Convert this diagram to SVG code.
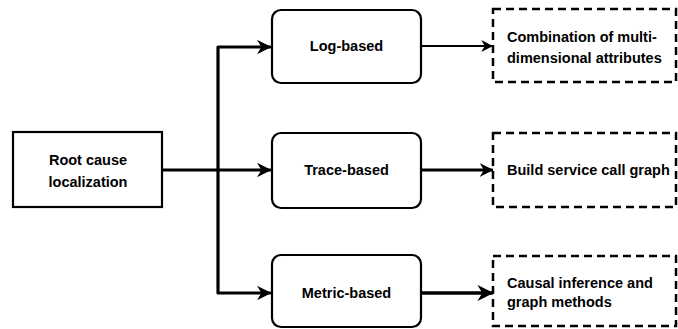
<svg xmlns="http://www.w3.org/2000/svg" width="678" height="329" viewBox="0 0 678 329">
<defs>
<style>
.box{fill:#fff;stroke:#000;stroke-width:2.2}
.dash{fill:#fff;stroke:#000;stroke-width:2.5;stroke-dasharray:8 5}
.t{font-family:"Liberation Sans",Arial,Helvetica,sans-serif;font-weight:bold;font-size:14.5px;fill:#000}
.c{text-anchor:middle}
.edge{fill:none;stroke:#000;stroke-linecap:round;stroke-linejoin:round}
</style>
<marker id="ah" viewBox="0 0 10 10" refX="9" refY="5" markerWidth="4.5" markerHeight="4.5" orient="auto" markerUnits="strokeWidth">
<path d="M0,0 L10,5 L0,10 L3,5 Z" fill="#000"/>
</marker>
<marker id="ahs" viewBox="0 0 10 10" refX="9" refY="5" markerWidth="6" markerHeight="6" orient="auto" markerUnits="strokeWidth">
<path d="M0,0 L10,5 L0,10 L3,5 Z" fill="#000"/>
</marker>
</defs>
<rect width="678" height="329" fill="#fff"/>
<g id="connectors">
<path class="edge" d="M162,170 L270,170" stroke-width="3.2" marker-end="url(#ah)"/>
<path class="edge" d="M218,170 L218,47 L270,47" stroke-width="3.2" marker-end="url(#ah)"/>
<path class="edge" d="M218,170 L218,293 L270,293" stroke-width="3.2" marker-end="url(#ah)"/>
<path class="edge" d="M421,46 L492,46" stroke-width="2" marker-end="url(#ahs)"/>
<path class="edge" d="M421,170 L492,170" stroke-width="3" marker-end="url(#ah)"/>
<path class="edge" d="M421,293 L492,293" stroke-width="3.6" marker-end="url(#ah)"/>
</g>
<g id="root">
<rect class="box" x="13" y="132" width="149" height="75"/>
<text class="t c" x="88" y="165">Root cause</text>
<text class="t c" x="88" y="187">localization</text>
</g>
<g id="log">
<rect class="box" x="272" y="10" width="149" height="73" rx="9"/>
<text class="t c" x="346.5" y="51">Log-based</text>
</g>
<g id="trace">
<rect class="box" x="272" y="133" width="149" height="75" rx="9"/>
<text class="t c" x="346.5" y="175">Trace-based</text>
</g>
<g id="metric">
<rect class="box" x="272" y="255" width="149" height="72" rx="9"/>
<text class="t c" x="346.5" y="298">Metric-based</text>
</g>
<g id="combo">
<rect class="dash" x="493" y="9" width="183" height="73"/>
<text class="t" x="507" y="42">Combination of multi-</text>
<text class="t" x="507" y="63">dimensional attributes</text>
</g>
<g id="build">
<rect class="dash" x="493" y="133" width="183" height="74"/>
<text class="t" x="507" y="175">Build service call graph</text>
</g>
<g id="causal">
<rect class="dash" x="493" y="256" width="183" height="70"/>
<text class="t" x="507" y="288">Causal inference and</text>
<text class="t" x="507" y="307">graph methods</text>
</g>
</svg>
